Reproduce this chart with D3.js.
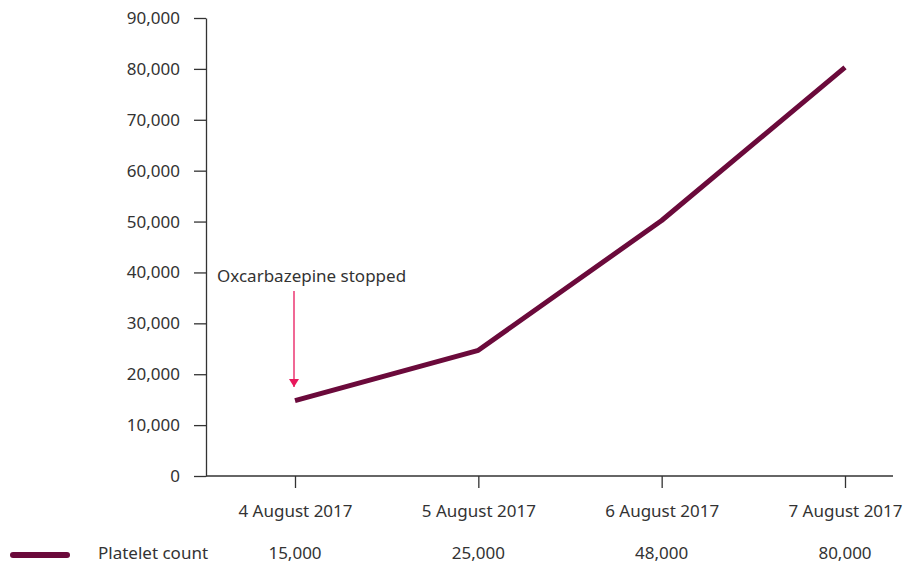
<!DOCTYPE html>
<html>
<head>
<meta charset="utf-8">
<script src="https://cdn.jsdelivr.net/npm/d3@7"></script>
<style>
  body { margin: 0; background: #fff; }
  text { font-family: "Noto Sans", sans-serif; fill: #333; }
</style>
</head>
<body>
<div id="chart-area"></div>
<script>
// platelet count over the days after stopping the drug
const dates = ["4 August 2017", "5 August 2017", "6 August 2017", "7 August 2017"];
const plateletValues = [14800, 24700, 50200, 80300];   // as plotted
const tableLabels = ["15,000", "25,000", "48,000", "80,000"]; // as printed in the row below
const yTicks = [0, 10000, 20000, 30000, 40000, 50000, 60000, 70000, 80000, 90000];

const W = 903, H = 563;
const axisLeftX = 206, axisRightX = 893;
const topY = 18, bottomY = 476;
const lineColor = "#6b0a3b";

const svg = d3.select("#chart-area")
    .append("svg")
        .attr("width", W)
        .attr("height", H);

// Scales
const x = d3.scalePoint()
    .domain(dates)
    .range([295, 845]);

const y = d3.scaleLinear()
    .domain([0, 90000])
    .range([bottomY, topY]);

// Y AXIS
const yAxisCall = d3.axisLeft(y)
    .tickValues(yTicks)
    .tickSize(12)
    .tickSizeOuter(0)
    .tickPadding(14)
    .tickFormat(d3.format(","));
const yAxis = svg.append("g")
    .attr("class", "y axis")
    .attr("transform", "translate(" + axisLeftX + ",0)")
    .call(yAxisCall);

// X AXIS
const xAxisCall = d3.axisBottom(x)
    .tickSize(12)
    .tickSizeOuter(0)
    .tickPadding(17);
const xAxis = svg.append("g")
    .attr("class", "x axis")
    .attr("transform", "translate(0," + bottomY + ")")
    .call(xAxisCall);
// axis line runs from the y axis to near the right edge
xAxis.select(".domain").attr("d", "M" + axisLeftX + ",0H" + axisRightX);

svg.selectAll(".axis .domain, .axis .tick line")
    .attr("stroke", "#333")
    .attr("stroke-width", 1.3);
svg.selectAll(".axis text")
    .attr("font-size", "17px")
    .attr("fill", "#333")
    .attr("font-family", "Noto Sans, sans-serif");
xAxis.selectAll("text").attr("dy", "0.71em");

// the line
const line = d3.line()
    .x(function(d, i){ return x(dates[i]); })
    .y(function(d){ return y(d); });

svg.append("path")
    .datum(plateletValues)
    .attr("d", line)
    .attr("fill", "none")
    .attr("stroke", lineColor)
    .attr("stroke-width", 5)
    .attr("stroke-linejoin", "round");

// annotation
svg.append("defs").append("marker")
    .attr("id", "arrow")
    .attr("viewBox", "0 0 8 10")
    .attr("refX", 8).attr("refY", 5)
    .attr("markerWidth", 8).attr("markerHeight", 10)
    .attr("markerUnits", "userSpaceOnUse")
    .attr("orient", "auto")
  .append("path")
    .attr("d", "M0,0L8,5L0,10Z")
    .attr("fill", "#e8185c");

svg.append("line")
    .attr("x1", x(dates[0]) - 1).attr("x2", x(dates[0]) - 1)
    .attr("y1", 291).attr("y2", 387)
    .attr("stroke", "#e8185c")
    .attr("stroke-width", 1.3)
    .attr("marker-end", "url(#arrow)");

svg.append("text")
    .attr("x", 217)
    .attr("y", 282)
    .attr("font-size", "17px")
    .text("Oxcarbazepine stopped");

// legend row with the printed counts
svg.append("line")
    .attr("x1", 13).attr("x2", 67)
    .attr("y1", 555).attr("y2", 555)
    .attr("stroke", lineColor)
    .attr("stroke-width", 6)
    .attr("stroke-linecap", "round");

svg.append("text")
    .attr("x", 98)
    .attr("y", 559)
    .attr("font-size", "17px")
    .text("Platelet count");

svg.selectAll(".table-label")
    .data(tableLabels)
    .enter()
    .append("text")
        .attr("class", "table-label")
        .attr("x", function(d, i){ return x(dates[i]); })
        .attr("y", 559)
        .attr("text-anchor", "middle")
        .attr("font-size", "17px")
        .text(function(d){ return d; });
</script>
</body>
</html>
